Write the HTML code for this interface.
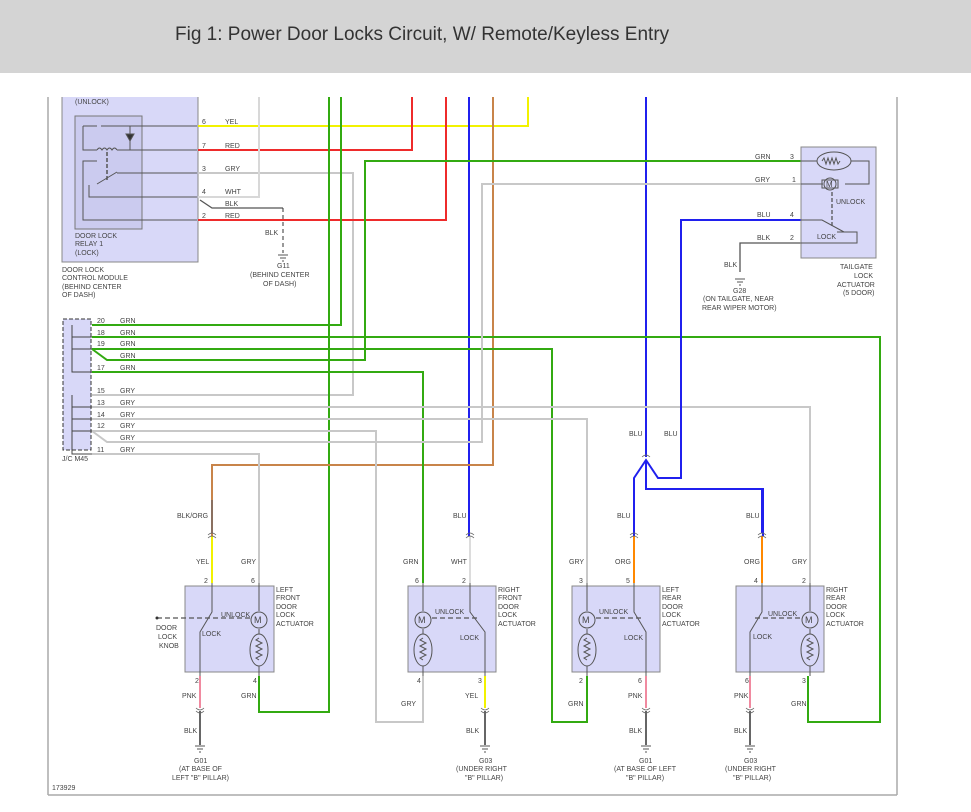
<!DOCTYPE html>
<html><head><meta charset="utf-8"><style>
html,body{margin:0;padding:0;background:#fff}
svg{display:block}
text{font-family:"Liberation Sans",sans-serif;font-size:7px;fill:#444}
.t{font-size:19px;fill:#333}
</style></head><body>
<svg width="971" height="812" viewBox="0 0 971 812" xmlns="http://www.w3.org/2000/svg">
<rect x="0" y="0" width="971" height="73" fill="#d4d4d4"/>
<text class="t" x="175" y="40">Fig 1: Power Door Locks Circuit, W/ Remote/Keyless Entry</text>
<!-- frame -->
<line x1="48" y1="97" x2="48" y2="795" stroke="#aaa" stroke-width="1.5"/>
<line x1="48" y1="795" x2="897" y2="795" stroke="#aaa" stroke-width="1.5"/>
<line x1="897" y1="97" x2="897" y2="795" stroke="#aaa" stroke-width="1.5"/>
<text x="52" y="790">173929</text>

<!-- module -->
<path d="M62 97V262H198V97" fill="#d8d8f8" stroke="#888"/>
<rect x="75" y="116" width="67" height="113" fill="#cbcbef" stroke="#777"/>
<text x="75" y="104">(UNLOCK)</text>
<text x="75" y="238">DOOR LOCK</text><text x="75" y="246">RELAY 1</text><text x="75" y="255">(LOCK)</text>
<text x="62" y="272">DOOR LOCK</text><text x="62" y="280">CONTROL MODULE</text><text x="62" y="289">(BEHIND CENTER</text><text x="62" y="297">OF DASH)</text>
<g stroke="#555" fill="none" stroke-width="1">
<path d="M83 126H97M101 126H197M83 126V150H97M117 150H197M130 126V150"/>
<path d="M97 150q2.5 -4 5 0q2.5 -4 5 0q2.5 -4 5 0q2.5 -4 5 0"/>
<path d="M117 173H197M97 184L117 172M97 161H83V220H197M89 185V197H197"/>
<path d="M107 152V180" stroke-dasharray="4 2" stroke-width="1.5"/>
<path d="M126 134L134 134L130 141Z" fill="#333"/>
</g>
<!-- J/C -->
<rect x="63" y="319" width="28" height="131" fill="#d8d8f8" stroke="#333" stroke-dasharray="4 2"/>
<text x="62" y="461">J/C M45</text>
<g stroke="#444" fill="none">
<path d="M72 325V372H92M72 337H92M72 349H92M72 395V454H92M72 407H92M72 419H92M72 431H92"/>
</g>

<g fill="none" stroke-width="2">
<path d="M198 126H528V97" stroke="#f2f200"/>
<path d="M198 150H412V97" stroke="#ee2b2b"/>
<path d="M198 173H353V395H92" stroke="#c8c8c8"/>
<path d="M198 197H259V97" stroke="#d8d8d8"/>
<path d="M198 220H446V97" stroke="#ee2b2b"/>
<path d="M200 200L212 208H283" stroke="#555" stroke-width="1.3"/>
<path d="M283 208V253" stroke="#333" stroke-width="1" stroke-dasharray="4 3"/>
<path d="M329 97V712H259V676" stroke="#33aa11"/>
<path d="M341 97V325H92" stroke="#33aa11"/>
<path d="M469 97V536" stroke="#2020ee"/>
<path d="M493 97V465H212V536" stroke="#c8844a"/>
<path d="M646 97V457" stroke="#2020ee"/>
<path d="M92 337H880V722H808V676" stroke="#33aa11"/>
<path d="M92 349H552V722H587V676" stroke="#33aa11"/>
<path d="M92 349L107 360H365V161H801" stroke="#33aa11"/>
<path d="M92 372H423V583" stroke="#33aa11"/>
<path d="M92 407H810V583" stroke="#c8c8c8"/>
<path d="M92 419H587V583" stroke="#c8c8c8"/>
<path d="M92 431H376V722H423V676" stroke="#c8c8c8"/>
<path d="M92 431L107 442H482V184H801" stroke="#c8c8c8"/>
<path d="M92 454H259V583" stroke="#c8c8c8"/>
<path d="M801 220H681V478H658L646 460L634 478V536M646 460V489H763V536" stroke="#2020ee"/>
<path d="M801 243H740V272" stroke="#555" stroke-width="1.3"/>
</g>

<text x="202" y="124">6</text><text x="225" y="124">YEL</text>
<text x="202" y="148">7</text><text x="225" y="148">RED</text>
<text x="202" y="171">3</text><text x="225" y="171">GRY</text>
<text x="202" y="194">4</text><text x="225" y="194">WHT</text>
<text x="225" y="206">BLK</text>
<text x="202" y="218">2</text><text x="225" y="218">RED</text>
<text x="265" y="235">BLK</text>
<text x="277" y="268">G11</text><text x="250" y="277">(BEHIND CENTER</text><text x="263" y="286">OF DASH)</text>
<text x="97" y="323">20</text><text x="120" y="323">GRN</text>
<text x="97" y="335">18</text><text x="120" y="335">GRN</text>
<text x="97" y="346">19</text><text x="120" y="346">GRN</text>
<text x="120" y="358">GRN</text>
<text x="97" y="370">17</text><text x="120" y="370">GRN</text>
<text x="97" y="393">15</text><text x="120" y="393">GRY</text>
<text x="97" y="405">13</text><text x="120" y="405">GRY</text>
<text x="97" y="417">14</text><text x="120" y="417">GRY</text>
<text x="97" y="428">12</text><text x="120" y="428">GRY</text>
<text x="120" y="440">GRY</text>
<text x="97" y="452">11</text><text x="120" y="452">GRY</text>

<rect x="801" y="147" width="75" height="111" fill="#d8d8f8" stroke="#888"/>
<g stroke="#555" fill="none">
<ellipse cx="834" cy="161" rx="17" ry="9"/>
<path d="M822 161l2-3 2 6 2-6 2 6 2-6 2 6 2-6 2 6 2-3M851 161H869V184H845M801 161H817M801 184H823M801 220H822L844 232M837 232H857V243H801"/>
<circle cx="830" cy="184" r="6"/><rect x="822" y="180" width="16" height="8"/>
<path d="M832 192V228" stroke-dasharray="4 2" stroke-width="1.3"/>
</g>
<text x="826" y="187" style="font-size:8px">M</text>
<text x="836" y="204">UNLOCK</text><text x="817" y="239">LOCK</text>
<text x="755" y="159">GRN</text><text x="790" y="159">3</text>
<text x="755" y="182">GRY</text><text x="792" y="182">1</text>
<text x="757" y="217">BLU</text><text x="790" y="217">4</text>
<text x="757" y="240">BLK</text><text x="790" y="240">2</text>
<text x="840" y="269">TAILGATE</text><text x="854" y="278">LOCK</text><text x="837" y="287">ACTUATOR</text><text x="843" y="295">(5 DOOR)</text>
<text x="724" y="267">BLK</text>
<text x="733" y="293">G28</text><text x="703" y="301">(ON TAILGATE, NEAR</text><text x="702" y="310">REAR WIPER MOTOR)</text>
<text x="629" y="436">BLU</text><text x="664" y="436">BLU</text>

<g stroke="#555" fill="none">
<path d="M278 255H288M280 258H286M282 261H284"/>
<path d="M735 279H745M737 282H743M739 285H741"/>
</g>

<g fill="#d8d8f8" stroke="#888">
<rect x="185" y="586" width="89" height="86"/>
<rect x="408" y="586" width="88" height="86"/>
<rect x="572" y="586" width="88" height="86"/>
<rect x="736" y="586" width="88" height="86"/>
</g>
<g fill="none" stroke-width="2">
<path d="M212 536V583" stroke="#f2f200"/>
<path d="M200 676V708" stroke="#f08aa0"/><path d="M200 711V745" stroke="#666"/>
<path d="M470 536V583" stroke="#dcdcdc"/>
<path d="M485 676V708" stroke="#f2f200"/><path d="M485 711V745" stroke="#666"/>
<path d="M634 536V583" stroke="#ff8800"/>
<path d="M646 676V708" stroke="#f08aa0"/><path d="M646 711V745" stroke="#666"/>
<path d="M762 536V583" stroke="#ff8800"/>
<path d="M750 676V708" stroke="#f08aa0"/><path d="M750 711V745" stroke="#666"/>
</g>
<path d="M212 500V533" stroke="#8a7060" stroke-width="2"/>
<path d="M634 489V533M762 489V533" stroke="#2020ee" stroke-width="2"/>
<g stroke="#666" fill="none" stroke-width="0.8">
<path d="M208 535q4-4 8 0M208 538q4-4 8 0M466 535q4-4 8 0M466 538q4-4 8 0M630 535q4-4 8 0M630 538q4-4 8 0M758 535q4-4 8 0M758 538q4-4 8 0M642 457q4-4 8 0"/>
<path d="M196 708q4 4 8 0M196 711q4 4 8 0M481 708q4 4 8 0M481 711q4 4 8 0M642 708q4 4 8 0M642 711q4 4 8 0M746 708q4 4 8 0M746 711q4 4 8 0"/>
</g>
<g stroke="#555" fill="none">
<path d="M195 746H205M197 749H203M199 752H201M480 746H490M482 749H488M484 752H486M641 746H651M643 749H649M645 752H647M745 746H755M747 749H753M749 752H751"/>
<path d="M212 583V612L200 632V676M259 583V611M259 629V634M259 666V676"/>
<path d="M157 618H250" stroke-dasharray="5 3" stroke-width="1.3"/>
<circle cx="259" cy="620" r="8"/><ellipse cx="259" cy="650" rx="9" ry="16"/>
<path d="M259 638l-3 2 6 3-6 3 6 3-6 3 6 3-6 3 3 2"/>
<path d="M423 583V611M423 629V634M423 666V676M470 583V612L485 632V676"/>
<path d="M432 618H478" stroke-dasharray="5 3" stroke-width="1.3"/>
<circle cx="423" cy="620" r="8"/><ellipse cx="423" cy="650" rx="9" ry="16"/>
<path d="M423 638l-3 2 6 3-6 3 6 3-6 3 6 3-6 3 3 2"/>
<path d="M587 583V611M587 629V634M587 666V676M634 583V612L646 632V676"/>
<path d="M596 618H642" stroke-dasharray="5 3" stroke-width="1.3"/>
<circle cx="587" cy="620" r="8"/><ellipse cx="587" cy="650" rx="9" ry="16"/>
<path d="M587 638l-3 2 6 3-6 3 6 3-6 3 6 3-6 3 3 2"/>
<path d="M762 583V612L750 632V676M810 583V611M810 629V634M810 666V676"/>
<path d="M755 618H801" stroke-dasharray="5 3" stroke-width="1.3"/>
<circle cx="810" cy="620" r="8"/><ellipse cx="810" cy="650" rx="9" ry="16"/>
<path d="M810 638l-3 2 6 3-6 3 6 3-6 3 6 3-6 3 3 2"/>
</g>
<circle cx="157" cy="618" r="1.5" fill="#333"/>
<text x="254" y="623" style="font-size:9px">M</text><text x="418" y="623" style="font-size:9px">M</text><text x="582" y="623" style="font-size:9px">M</text><text x="805" y="623" style="font-size:9px">M</text>

<text x="177" y="518">BLK/ORG</text>
<text x="196" y="564">YEL</text><text x="241" y="564">GRY</text>
<text x="204" y="583">2</text><text x="251" y="583">6</text>
<text x="276" y="592">LEFT</text><text x="276" y="600">FRONT</text><text x="276" y="609">DOOR</text><text x="276" y="617">LOCK</text><text x="276" y="626">ACTUATOR</text>
<text x="221" y="617">UNLOCK</text><text x="202" y="636">LOCK</text>
<text x="156" y="630">DOOR</text><text x="158" y="639">LOCK</text><text x="159" y="648">KNOB</text>
<text x="195" y="683">2</text><text x="253" y="683">4</text>
<text x="182" y="698">PNK</text><text x="241" y="698">GRN</text>
<text x="184" y="733">BLK</text>
<text x="194" y="763">G01</text><text x="179" y="771">(AT BASE OF</text><text x="172" y="780">LEFT "B" PILLAR)</text>

<text x="453" y="518">BLU</text>
<text x="403" y="564">GRN</text><text x="451" y="564">WHT</text>
<text x="415" y="583">6</text><text x="462" y="583">2</text>
<text x="498" y="592">RIGHT</text><text x="498" y="600">FRONT</text><text x="498" y="609">DOOR</text><text x="498" y="617">LOCK</text><text x="498" y="626">ACTUATOR</text>
<text x="435" y="614">UNLOCK</text><text x="460" y="640">LOCK</text>
<text x="417" y="683">4</text><text x="478" y="683">3</text>
<text x="401" y="706">GRY</text><text x="465" y="698">YEL</text>
<text x="466" y="733">BLK</text>
<text x="479" y="763">G03</text><text x="456" y="771">(UNDER RIGHT</text><text x="465" y="780">"B" PILLAR)</text>

<text x="617" y="518">BLU</text>
<text x="569" y="564">GRY</text><text x="615" y="564">ORG</text>
<text x="579" y="583">3</text><text x="626" y="583">5</text>
<text x="662" y="592">LEFT</text><text x="662" y="600">REAR</text><text x="662" y="609">DOOR</text><text x="662" y="617">LOCK</text><text x="662" y="626">ACTUATOR</text>
<text x="599" y="614">UNLOCK</text><text x="624" y="640">LOCK</text>
<text x="579" y="683">2</text><text x="638" y="683">6</text>
<text x="568" y="706">GRN</text><text x="628" y="698">PNK</text>
<text x="629" y="733">BLK</text>
<text x="639" y="763">G01</text><text x="614" y="771">(AT BASE OF LEFT</text><text x="626" y="780">"B" PILLAR)</text>

<text x="746" y="518">BLU</text>
<text x="744" y="564">ORG</text><text x="792" y="564">GRY</text>
<text x="754" y="583">4</text><text x="802" y="583">2</text>
<text x="826" y="592">RIGHT</text><text x="826" y="600">REAR</text><text x="826" y="609">DOOR</text><text x="826" y="617">LOCK</text><text x="826" y="626">ACTUATOR</text>
<text x="768" y="616">UNLOCK</text><text x="753" y="639">LOCK</text>
<text x="745" y="683">6</text><text x="802" y="683">3</text>
<text x="734" y="698">PNK</text><text x="791" y="706">GRN</text>
<text x="734" y="733">BLK</text>
<text x="744" y="763">G03</text><text x="725" y="771">(UNDER RIGHT</text><text x="733" y="780">"B" PILLAR)</text>
</svg>
</body></html>
